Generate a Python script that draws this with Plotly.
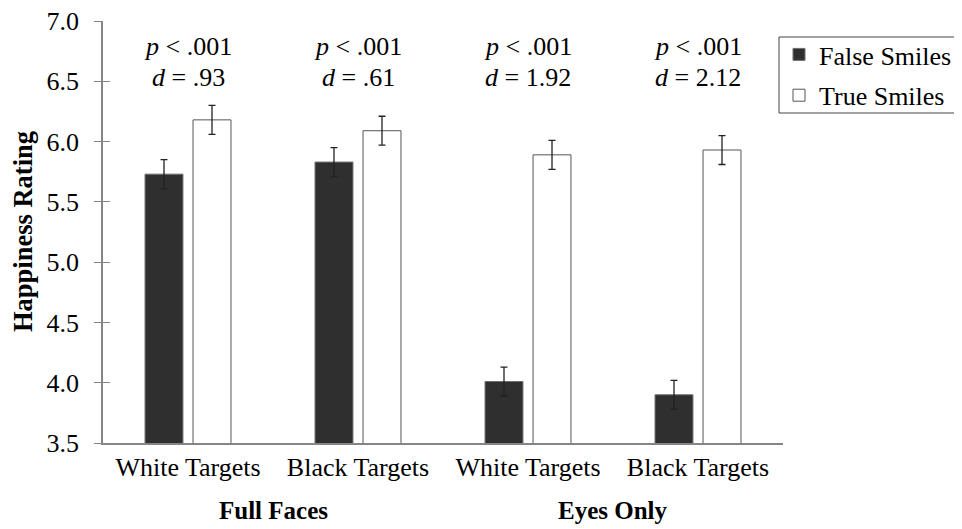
import plotly.graph_objects as go

categories = ["c1", "c2", "c3", "c4"]
category_labels = ["White Targets", "Black Targets", "White Targets", "Black Targets"]
group_labels = ["Full Faces", "Eyes Only"]
false_smiles = [5.73, 5.83, 4.01, 3.90]
true_smiles = [6.18, 6.09, 5.89, 5.93]
false_err = [0.12, 0.12, 0.12, 0.12]
true_err = [0.12, 0.12, 0.12, 0.12]
p_labels = ["<i>p</i> < .001"] * 4
d_labels = [".93", ".61", "1.92", "2.12"]
y_ticks = [3.5, 4.0, 4.5, 5.0, 5.5, 6.0, 6.5, 7.0]

FONT = "Liberation Serif"
GRAY = "#858585"
W, H = 962, 529
L, R, T, B = 95, 187, 13, 94
PH = H - T - B  # plot height in px
PW = W - L - R  # plot width in px


def py(y_fig):
    return (H - B - y_fig) / PH


def px(x_fig):
    return (x_fig - L) / PW


fig = go.Figure()
fig.add_trace(go.Bar(
    x=categories, y=false_smiles, name="False Smiles", legendgroup="f",
    marker=dict(color="#2f2f2f", line=dict(color="#707070", width=1)),
    error_y=dict(type="data", array=false_err, color="#222222", thickness=1.3, width=3.5),
))
fig.add_trace(go.Bar(
    x=categories, y=true_smiles, name="True Smiles", legendgroup="t",
    marker=dict(color="white", line=dict(color="#555555", width=1)),
    error_y=dict(type="data", array=true_err, color="#222222", thickness=1.3, width=3.5),
))
# overlay axis used only for the inside half of the cross tick marks
fig.add_trace(go.Scatter(x=categories, y=[None] * 4, yaxis="y2", showlegend=False, hoverinfo="skip"))

for i, c in enumerate(categories):
    fig.add_annotation(x=c, y=py(39), yref="paper", text=p_labels[i], showarrow=False,
                       font=dict(family=FONT, size=26, color="black"), yanchor="middle")
    fig.add_annotation(x=c, y=py(69), yref="paper", text="<i>d</i> = " + d_labels[i], showarrow=False,
                       font=dict(family=FONT, size=26, color="black"), yanchor="middle")

for gx, g in zip([0.25, 0.75], group_labels):
    fig.add_annotation(x=gx, xref="paper", y=py(502), yref="paper", text="<b>" + g + "</b>",
                       showarrow=False, font=dict(family=FONT, size=25, color="black"),
                       xanchor="center", yanchor="middle")

fig.add_annotation(x=px(15), xref="paper", y=0.5, yref="paper", text="<b>Happiness Rating</b>",
                   textangle=-90, showarrow=False, font=dict(family=FONT, size=26.5, color="black"),
                   xanchor="center", yanchor="middle")

# legend frame
fig.add_shape(type="rect", xref="paper", yref="paper",
              x0=px(771), x1=px(W + 20), y0=py(105), y1=py(29),
              line=dict(color="#444444", width=1), fillcolor="rgba(0,0,0,0)", layer="above")

fig.update_layout(
    width=W, height=H,
    margin=dict(l=L, r=R, t=T, b=B, autoexpand=False),
    paper_bgcolor="white", plot_bgcolor="white",
    barmode="group", bargap=0.435, bargroupgap=0.21,
    font=dict(family=FONT, size=26, color="black"),
    showlegend=True,
    legend=dict(x=px(771), y=py(23), xanchor="left", yanchor="top",
                borderwidth=0, bgcolor="rgba(0,0,0,0)", traceorder="grouped",
                font=dict(family=FONT, size=26, color="black"), tracegroupgap=4),
    xaxis=dict(tickmode="array", tickvals=categories, ticktext=category_labels,
               showline=True, linecolor=GRAY, linewidth=1.5, ticks="", showgrid=False,
               tickfont=dict(family=FONT, size=26, color="black"), range=[-0.5, 3.5],
               automargin=False),
    yaxis=dict(range=[3.5, 7.0], tickvals=y_ticks, ticktext=[f"{v:.1f}" for v in y_ticks],
               showline=True, linecolor=GRAY, linewidth=1.5, ticks="outside", ticklen=7,
               tickcolor=GRAY, tickwidth=1.2, showgrid=False, zeroline=False,
               tickfont=dict(family=FONT, size=26, color="black"), ticklabelstandoff=10,
               ticklabeloverflow="allow", automargin=False),
    yaxis2=dict(range=[3.5, 7.0], overlaying="y", side="left", tickvals=y_ticks,
                showticklabels=False, ticks="inside", ticklen=7, tickcolor=GRAY, tickwidth=1.2,
                showgrid=False, zeroline=False, showline=False, automargin=False),
)

fig.write_html("out.html")
